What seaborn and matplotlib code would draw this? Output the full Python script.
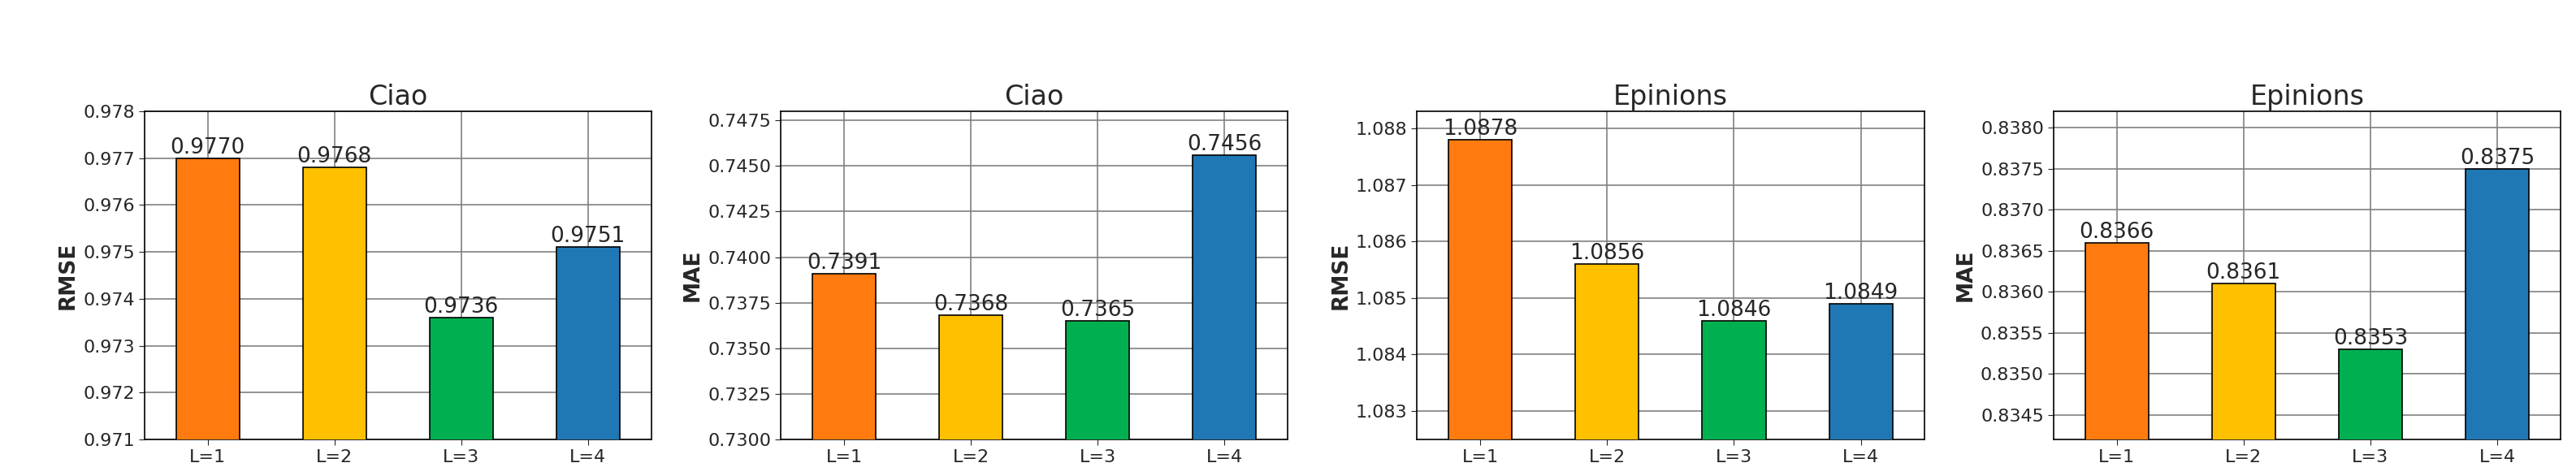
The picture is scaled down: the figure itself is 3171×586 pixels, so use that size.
import matplotlib
matplotlib.use("Agg")
import matplotlib.pyplot as plt
import pandas as pd
import seaborn as sns

layers = ["L=1", "L=2", "L=3", "L=4"]
titles = ["Ciao", "Ciao", "Epinions", "Epinions"]
metrics = ["RMSE", "MAE", "RMSE", "MAE"]
ciao_rmse = [0.9770, 0.9768, 0.9736, 0.9751]
ciao_mae = [0.7391, 0.7368, 0.7365, 0.7456]
epinions_rmse = [1.0878, 1.0856, 1.0846, 1.0849]
epinions_mae = [0.8366, 0.8361, 0.8353, 0.8375]
ylims = [(0.971, 0.978), (0.7300, 0.7480), (1.0825, 1.0883), (0.8342, 0.8382)]
yticks = [
    [0.971, 0.972, 0.973, 0.974, 0.975, 0.976, 0.977, 0.978],
    [0.7300, 0.7325, 0.7350, 0.7375, 0.7400, 0.7425, 0.7450, 0.7475],
    [1.083, 1.084, 1.085, 1.086, 1.087, 1.088],
    [0.8345, 0.8350, 0.8355, 0.8360, 0.8365, 0.8370, 0.8375, 0.8380],
]
tick_fmt = ["{:.3f}", "{:.4f}", "{:.3f}", "{:.4f}"]
colors = ["#FF7B0F", "#FFC000", "#00B050", "#1F77B4"]

sns.set_style("white")
plt.rcParams["font.family"] = ["DejaVu Sans"]

fig, axes = plt.subplots(1, 4, figsize=(31.71, 5.86), dpi=100)
fig.subplots_adjust(left=0.056, right=0.994, top=0.766, bottom=0.077, wspace=0.255)

series = [ciao_rmse, ciao_mae, epinions_rmse, epinions_mae]
for i, ax in enumerate(axes):
    df = pd.DataFrame({"layer": layers, "value": series[i]})
    sns.barplot(data=df, x="layer", y="value", hue="layer", palette=colors,
                saturation=1, width=0.5, edgecolor="black", linewidth=1.2,
                legend=False, ax=ax, zorder=3)
    ax.set_ylim(*ylims[i])
    ax.set_yticks(yticks[i])
    ax.set_yticklabels([tick_fmt[i].format(t) for t in yticks[i]])
    ax.grid(True, color="gray", linewidth=1.2, zorder=0)
    ax.set_axisbelow(True)
    ax.set_title(titles[i], fontsize=24)
    ax.set_xlabel("")
    ax.set_ylabel(metrics[i], fontsize=19, fontweight="bold")
    ax.tick_params(axis="both", labelsize=16, length=5, left=True, bottom=True)
    for sp in ax.spines.values():
        sp.set_visible(True)
        sp.set_color("black")
        sp.set_linewidth(1.2)
    for bar, v in zip(ax.patches, series[i]):
        ax.text(bar.get_x() + bar.get_width() / 2, v, f"{v:.4f}",
                ha="center", va="bottom", fontsize=19)

fig.savefig("out.png", dpi=100)
